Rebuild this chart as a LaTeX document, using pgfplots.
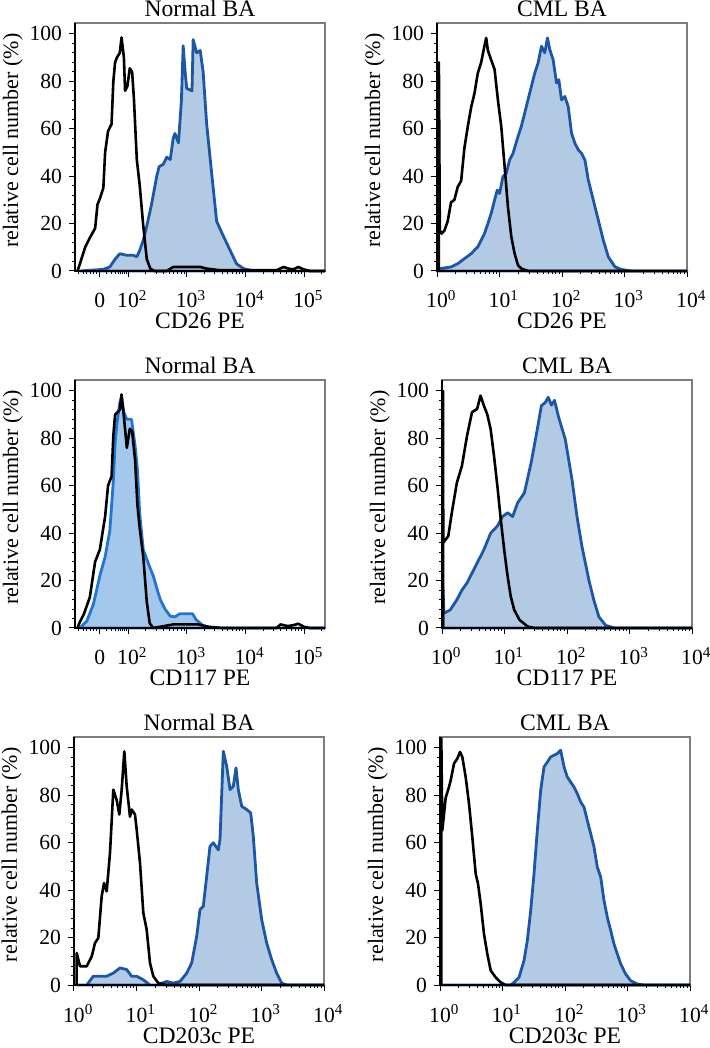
\documentclass[border=0pt]{standalone}
\usepackage{fontspec}
\setmainfont{Liberation Serif}
\usepackage{pgfplots}
\pgfplotsset{compat=1.18}

\definecolor{bline}{RGB}{28,86,166}
\definecolor{bfill}{RGB}{178,202,228}
\definecolor{cline}{RGB}{32,118,208}
\definecolor{cfill}{RGB}{164,200,236}
\definecolor{framec}{RGB}{125,125,125}

\pgfplotsset{
  facs/.style={
    scale only axis, width=125pt, height=124pt,
    anchor=south west, clip=false,
    ymin=0, ymax=104.6,
    ytick={0,20,...,100}, minor y tick num=4,
    tick align=outside, xtick pos=bottom, ytick pos=left,
    major tick length=3pt, minor tick length=1.6pt,
    every tick/.style={black, line width=0.5pt},
    axis line style={framec, line width=0.6pt},
    /pgf/number format/assume math mode=true,
    tick label style={font=\fontsize{10.8}{12}\selectfont},
    xticklabel style={anchor=base, yshift=-15.5pt},
    every axis title shift=0pt,
    title style={font=\fontsize{11.8}{13}\selectfont, at={(0.5,1)}, anchor=base, yshift=3pt},
    xlabel style={font=\fontsize{11.8}{13}\selectfont, at={(axis description cs:0.5,0)}, anchor=base, yshift=-29pt},
    ylabel style={font=\fontsize{11}{12}\selectfont, at={(axis description cs:-0.228,0.525)}, anchor=base},
    ylabel={relative cell number (\%)},
  },
  biexp/.style={facs,
    xmin=1.097, xmax=5.356,
    xtick={1.52,2,3,4,5},
    xticklabels={0,10\rlap{\textsuperscript{2}},10\rlap{\textsuperscript{3}},10\rlap{\textsuperscript{4}},10\rlap{\textsuperscript{5}}},
    minor xtick={1.153,1.239,1.296,1.353,1.409,1.466,1.637,1.722,1.779,1.835,1.875,1.91,1.937,1.966,
      2.301,2.477,2.602,2.699,2.778,2.845,2.903,2.954,3.301,3.477,3.602,3.699,3.778,3.845,3.903,3.954,
      4.301,4.477,4.602,4.699,4.778,4.845,4.903,4.954,5.301},
  },
  logax/.style={facs,
    xmin=0, xmax=4,
    xtick={0,1,2,3,4},
    xticklabels={10\rlap{\textsuperscript{0}},10\rlap{\textsuperscript{1}},10\rlap{\textsuperscript{2}},10\rlap{\textsuperscript{3}},10\rlap{\textsuperscript{4}}},
    minor xtick={0.301,0.477,0.602,0.699,0.778,0.845,0.903,0.954,1.301,1.477,1.602,1.699,1.778,1.845,1.903,1.954,
      2.301,2.477,2.602,2.699,2.778,2.845,2.903,2.954,3.301,3.477,3.602,3.699,3.778,3.845,3.903,3.954},
  },
  blk/.style={black, line width=1.3pt, line join=round},
  pos/.style={draw=bline, fill=bfill, line width=1.4pt, line join=round},
  posc/.style={draw=cline, fill=cfill, line width=1.4pt, line join=round},
}
\newcommand\axlines{\draw[black, line width=0.7pt] (rel axis cs:0,1) -- (rel axis cs:0,0) -- (rel axis cs:1,0);}

\begin{document}
\begin{tikzpicture}
\useasboundingbox (0,0) rectangle (354.5pt,524pt);

% row 1 left: Normal BA, CD26
\begin{axis}[biexp, at={(37.5pt,388.5pt)}, title={Normal BA}, xlabel={CD26 PE}]
\addplot[pos] coordinates {
(1.18,0)(1.58,0.7)(1.69,1.7)(1.78,5)(1.86,7.3)(1.98,6.6)(2.09,6.6)(2.15,6)(2.20,8.7)(2.26,13)
(2.32,19)(2.40,28)(2.49,40)(2.53,44)(2.60,45)(2.66,48)(2.72,47)(2.77,56)(2.80,58)(2.86,54)
(2.91,72)(2.94,95)(2.97,85)(3.00,77)(3.09,76)(3.11,97.6)(3.17,92)(3.23,93)(3.28,84)(3.34,62)
(3.43,40)(3.51,21)(3.60,16)(3.74,8.7)(3.85,3)(3.97,1)(4.14,0)(5.356,0)} \closedcycle;
\addplot[blk] coordinates {
(1.14,0)(1.18,3)(1.27,10)(1.35,14)(1.44,18)(1.48,28)(1.52,30.5)(1.58,35)(1.61,50)(1.66,59)
(1.72,62)(1.75,80)(1.78,88)(1.81,90)(1.86,92)(1.89,98.5)(1.93,90)(1.95,76)(1.99,78)(2.03,85.5)
(2.07,84)(2.10,73)(2.15,47)(2.20,36)(2.26,19)(2.32,5)(2.38,1)(2.45,0)(2.66,0)(2.77,1.7)
(3.23,1.7)(3.34,1)(3.57,0.3)(4.53,0.3)(4.65,1.7)(4.73,1)(4.82,0.7)(4.90,1.7)(4.99,0.7)(5.10,0)(5.356,0)};
\axlines
\end{axis}

% row 1 right: CML BA, CD26
\begin{axis}[logax, at={(218.5pt,388.5pt)}, title={CML BA}, xlabel={CD26 PE}]
\addplot[pos] coordinates {
(0,0)(0.037,1)(0.225,1.7)(0.332,3.1)(0.439,5.2)(0.546,7.3)(0.653,10.2)(0.760,15.8)(0.814,20)(0.867,24.3)
(0.921,29.9)(0.964,34.1)(1.001,32.7)(1.055,39.8)(1.108,41.2)(1.162,46.8)(1.216,49.6)(1.296,56.7)(1.349,61)(1.403,66.6)
(1.456,72.2)(1.510,77.9)(1.564,83.5)(1.617,87.7)(1.671,94.8)(1.724,92)(1.767,98.3)(1.805,93.4)(1.858,89.1)(1.912,79.3)
(1.949,80.7)(1.992,72.2)(2.045,73.6)(2.099,69.4)(2.153,58.1)(2.206,53.9)(2.260,51.1)(2.313,49.6)(2.367,46.8)(2.420,38.4)
(2.501,29.9)(2.581,21.4)(2.661,13)(2.742,5.9)(2.849,1.7)(2.956,0.6)(3.116,0)(4,0)} \closedcycle;
\addplot[blk] coordinates {
(0.03,0)(0.03,88)(0.045,17)(0.075,15.8)(0.118,17)(0.171,21)(0.225,29)(0.278,30)(0.332,35.5)(0.386,38)
(0.439,52)(0.493,61)(0.546,69)(0.600,75)(0.653,83.5)(0.707,88)(0.760,95)(0.787,98.3)(0.814,93)(0.867,89)
(0.921,85)(0.975,72)(1.028,61)(1.082,44)(1.135,27)(1.189,14.4)(1.242,7.3)(1.296,2.4)(1.349,1)(1.457,0)(4,0)};
\axlines
\end{axis}

% row 2 left: Normal BA, CD117
\begin{axis}[biexp, at={(37.5pt,210pt)}, title={Normal BA}, xlabel={CD117 PE}]
\addplot[posc] coordinates {
(1.18,0)(1.30,3)(1.41,10)(1.52,22)(1.61,30)(1.69,41)(1.75,62)(1.78,78)(1.81,86)(1.86,95)
(1.89,97.5)(1.93,91)(1.98,88)(2.06,88)(2.12,77)(2.16,67)(2.20,48)(2.26,33)(2.35,27)(2.43,22)
(2.50,16)(2.55,12)(2.63,8)(2.72,5)(2.80,4.7)(2.88,6)(2.97,6)(3.10,6)(3.16,3.5)(3.28,1)(3.45,0)(5.356,0)} \closedcycle;
\addplot[blk] coordinates {
(1.14,0)(1.17,2)(1.25,6)(1.35,13)(1.44,28)(1.52,33)(1.61,47)(1.66,60)(1.72,64)(1.75,81)
(1.78,90)(1.86,92)(1.89,98.5)(1.93,89)(1.98,76)(2.03,84)(2.07,83)(2.12,71)(2.16,52)(2.20,42)
(2.26,30)(2.32,11)(2.37,2)(2.43,0)(2.77,1.5)(3.2,1.5)(3.37,0.5)(3.6,0)(4.53,0)(4.6,1.5)
(4.72,0.8)(4.82,1.2)(4.9,1.8)(5.0,0.5)(5.1,0)(5.356,0)};
\axlines
\end{axis}

% row 2 right: CML BA, CD117
\begin{axis}[logax, at={(221pt,210pt)}, title={CML BA}, xlabel={CD117 PE}]
\addplot[pos] coordinates {
(0.016,0)(0.016,17)(0.03,6.2)(0.13,7.6)(0.238,11.9)(0.319,16)(0.40,19)(0.508,24.6)(0.589,28.8)(0.67,33)
(0.778,40)(0.886,43)(0.968,47)(1.05,48.6)(1.13,47)(1.21,52.8)(1.318,57)(1.427,69.8)(1.535,85.3)(1.59,93.8)
(1.65,95)(1.70,97.3)(1.75,94)(1.80,96)(1.865,89)(1.973,79.5)(2.08,62.6)(2.16,47)(2.24,34.3)(2.35,20.2)
(2.43,11.7)(2.51,4.7)(2.62,1.1)(2.76,0)(4,0)} \closedcycle;
\addplot[blk] coordinates {
(0.016,0)(0.016,100)(0.02,36)(0.10,38.7)(0.157,48.6)(0.238,61.3)(0.319,68.4)(0.40,81)(0.48,91)(0.562,92.4)
(0.616,98)(0.67,93.8)(0.725,90)(0.778,83.9)(0.832,72.6)(0.886,59.9)(0.94,45.8)(0.995,33)(1.05,21.7)(1.10,13.3)
(1.156,7.6)(1.24,3.4)(1.373,0.6)(1.48,0)(4,0)};
\axlines
\end{axis}

% row 3 left: Normal BA, CD203c
\begin{axis}[logax, at={(37pt,31.5pt)}, title={Normal BA}, xlabel={CD203c PE}]
\addplot[pos] coordinates {
(0.043,0)(0.203,0)(0.309,3.7)(0.416,3.7)(0.523,3.7)(0.629,5)(0.736,7.2)(0.843,6.5)(0.923,3.7)(1.003,3.7)
(1.109,2.2)(1.216,0)(1.323,0)(1.483,1.5)(1.589,0.8)(1.696,1.5)(1.803,5)(1.883,9.3)(1.963,20.5)(2.016,31.8)
(2.069,33.2)(2.123,45.9)(2.176,58.5)(2.229,60)(2.309,57)(2.336,61.3)(2.389,98.6)(2.443,92.3)(2.496,82.4)(2.549,83.8)
(2.592,91.6)(2.629,82.4)(2.683,75.4)(2.763,74)(2.827,72.6)(2.869,62.7)(2.923,43)(3.003,27.6)(3.083,17.7)(3.163,10.7)
(3.243,5)(3.323,0.8)(3.403,0)(4,0)} \closedcycle;
\addplot[blk] coordinates {
(0.043,0)(0.043,13.5)(0.096,7.9)(0.203,7.9)(0.283,12)(0.336,17.7)(0.389,19.8)(0.443,37.4)(0.48,43)(0.523,39.5)
(0.576,55.7)(0.629,82.4)(0.683,78)(0.725,71.9)(0.763,82.4)(0.805,98.5)(0.843,83.8)(0.896,71)(0.923,74)(0.976,71.9)
(1.003,65.5)(1.056,51.5)(1.109,30.4)(1.163,23.3)(1.216,9.3)(1.269,3.7)(1.349,0.8)(1.483,0)(4,0)};
\axlines
\end{axis}

% row 3 right: CML BA, CD203c
\begin{axis}[logax, at={(220pt,31.5pt)}, title={CML BA}, xlabel={CD203c PE}]
\addplot[pos] coordinates {
(0,0)(1.131,0)(1.184,1.1)(1.264,3.2)(1.344,10.3)(1.397,18.7)(1.451,31.4)(1.504,46.9)(1.557,65.2)(1.611,82.1)
(1.664,92)(1.717,94)(1.771,96.2)(1.824,96.9)(1.877,97.6)(1.931,99)(1.984,92)(2.037,87.7)(2.091,85.6)(2.144,83.5)
(2.197,80.7)(2.251,77.2)(2.304,75)(2.357,69.4)(2.411,63.8)(2.464,58.2)(2.517,49.7)(2.571,45.5)(2.624,35.6)(2.677,28.6)
(2.731,23)(2.784,17.3)(2.837,13.1)(2.891,8.9)(2.971,4.6)(3.051,1.8)(3.157,0.4)(3.264,0)(4,0)} \closedcycle;
\addplot[blk] coordinates {
(0.021,0)(0.021,104)(0.037,65.2)(0.064,72)(0.091,79)(0.144,83.5)(0.171,86.3)(0.224,93.4)(0.277,95.5)(0.32,98.3)
(0.357,96.2)(0.411,87.7)(0.464,76.5)(0.517,62.4)(0.571,46.9)(0.608,42.7)(0.651,34.2)(0.704,21.5)(0.757,13.1)(0.811,6.1)
(0.891,3.2)(0.971,1.1)(1.051,0)(4,0)};
\axlines
\end{axis}
\end{tikzpicture}
\end{document}
